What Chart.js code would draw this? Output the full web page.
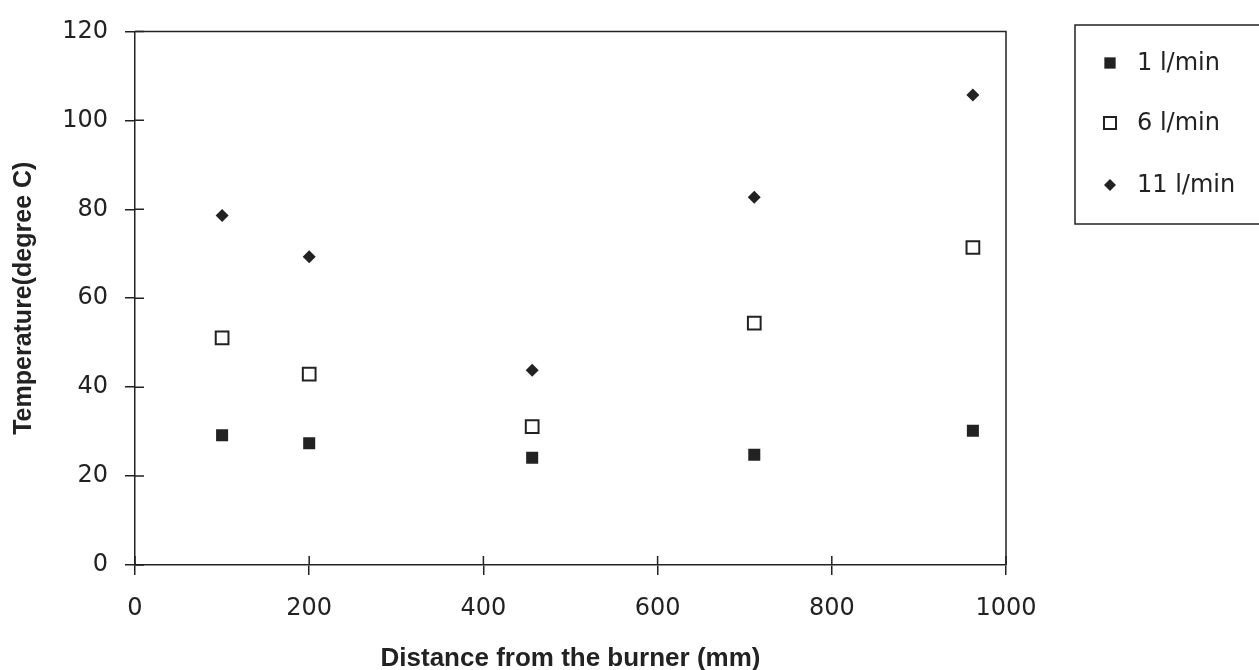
<!DOCTYPE html>
<html>
<head>
<meta charset="utf-8">
<script src="https://cdn.jsdelivr.net/npm/chart.js@4/dist/chart.umd.min.js"></script>
<style>
  html, body { margin: 0; padding: 0; background: #fff; }
  #wrap { width: 1259px; height: 670px; }
</style>
</head>
<body>
<div id="wrap"><canvas id="c" width="1259" height="670"></canvas></div>
<script>
// ---- data ----
const distances = [100, 200, 456, 711, 962];
const flow1 = [29.2, 27.4, 24.1, 24.8, 30.2];
const flow6 = [51.1, 42.9, 31.1, 54.4, 71.4];
const flow11 = [78.6, 69.3, 43.8, 82.7, 105.7];
const seriesLabels = ['1 l/min', '6 l/min', '11 l/min'];
const xTickValues = [0, 200, 400, 600, 800, 1000];
const yTickValues = [0, 20, 40, 60, 80, 100, 120];
const xTitle = 'Distance from the burner (mm)';
const yTitle = 'Temperature(degree C)';

const INK = '#222';

function pts(ys) { return distances.map((x, i) => ({ x: x, y: ys[i] })); }

const datasets = [
  { label: seriesLabels[0], data: pts(flow1), pointStyle: 'rect', pointRadius: 8.5, backgroundColor: INK, borderColor: INK, borderWidth: 0 },
  { label: seriesLabels[1], data: pts(flow6), pointStyle: 'rect', pointRadius: 9, backgroundColor: '#fff', borderColor: INK, borderWidth: 2 },
  { label: seriesLabels[2], data: pts(flow11), pointStyle: 'rectRot', pointRadius: 6.5, backgroundColor: INK, borderColor: INK, borderWidth: 0 }
];

const framePlugin = {
  id: 'frame',
  afterDraw(chart) {
    const ctx = chart.ctx;
    const a = chart.chartArea;
    const xs = chart.scales.x, ys = chart.scales.y;
    ctx.save();
    ctx.strokeStyle = INK;
    ctx.lineWidth = 1.5;
    // top and right frame lines
    ctx.beginPath();
    ctx.moveTo(a.left, a.top); ctx.lineTo(a.right, a.top); ctx.lineTo(a.right, a.bottom);
    ctx.stroke();
    // inner halves of crossing tick marks
    ctx.beginPath();
    yTickValues.forEach(v => { const y = ys.getPixelForValue(v); ctx.moveTo(a.left, y); ctx.lineTo(a.left + 9, y); });
    xTickValues.forEach(v => { const x = xs.getPixelForValue(v); ctx.moveTo(x, a.bottom); ctx.lineTo(x, a.bottom - 9); });
    ctx.stroke();

    // legend box
    const L = { left: 1075, top: 25, bottom: 224, right: 1266 };
    ctx.lineWidth = 1.5;
    ctx.strokeRect(L.left, L.top, L.right - L.left, L.bottom - L.top);
    const rows = [63, 123, 185];
    chart.data.datasets.forEach((ds, i) => {
      const style = {
        pointStyle: ds.pointStyle, radius: ds.pointRadius - 0.5, borderWidth: ds.borderWidth, rotation: 0
      };
      ctx.fillStyle = ds.backgroundColor;
      ctx.strokeStyle = ds.borderColor;
      ctx.lineWidth = ds.borderWidth;
      Chart.helpers.drawPoint(ctx, style, 1110, rows[i]);
      ctx.fillStyle = INK;
      ctx.font = '24px "DejaVu Sans"';
      ctx.textBaseline = 'middle';
      ctx.textAlign = 'left';
      ctx.fillText(ds.label, 1137, rows[i] + 1);
    });
    ctx.restore();
  }
};

new Chart(document.getElementById('c'), {
  type: 'scatter',
  data: { datasets: datasets },
  options: {
    responsive: false,
    animation: false,
    devicePixelRatio: 1,
    layout: { padding: { top: 22, right: 253, left: 0, bottom: 0 } },
    plugins: { legend: { display: false }, tooltip: { enabled: false } },
    scales: {
      x: {
        type: 'linear', min: 0, max: 1000,
        afterFit(s) { s.height = 105; },
        afterBuildTicks(s) { s.ticks = xTickValues.map(v => ({ value: v })); },
        ticks: { color: INK, font: { family: 'DejaVu Sans', size: 24 }, padding: 19, maxRotation: 0, callback: v => String(v) },
        grid: { display: true, drawOnChartArea: false, drawTicks: true, tickLength: 10, color: INK, lineWidth: 1.5 },
        border: { display: true, color: INK, width: 1.5 },
        title: { display: true, text: xTitle, color: INK, font: { family: 'Liberation Sans', size: 26, weight: 'bold', lineHeight: 0.85 }, padding: { top: 0, bottom: 0 } }
      },
      y: {
        type: 'linear', min: 0, max: 120,
        afterFit(s) { s.width = 135; },
        afterBuildTicks(s) { s.ticks = yTickValues.map(v => ({ value: v })); },
        ticks: { color: INK, font: { family: 'DejaVu Sans', size: 24 }, padding: 17, callback: v => String(v) },
        grid: { display: true, drawOnChartArea: false, drawTicks: true, tickLength: 10, color: INK, lineWidth: 1.5 },
        border: { display: true, color: INK, width: 1.5 },
        title: { display: true, text: yTitle, color: INK, font: { family: 'Liberation Sans', size: 25, weight: 'bold', lineHeight: 1 }, padding: { top: 12, bottom: 0 } }
      }
    }
  },
  plugins: [framePlugin]
});
</script>
</body>
</html>
